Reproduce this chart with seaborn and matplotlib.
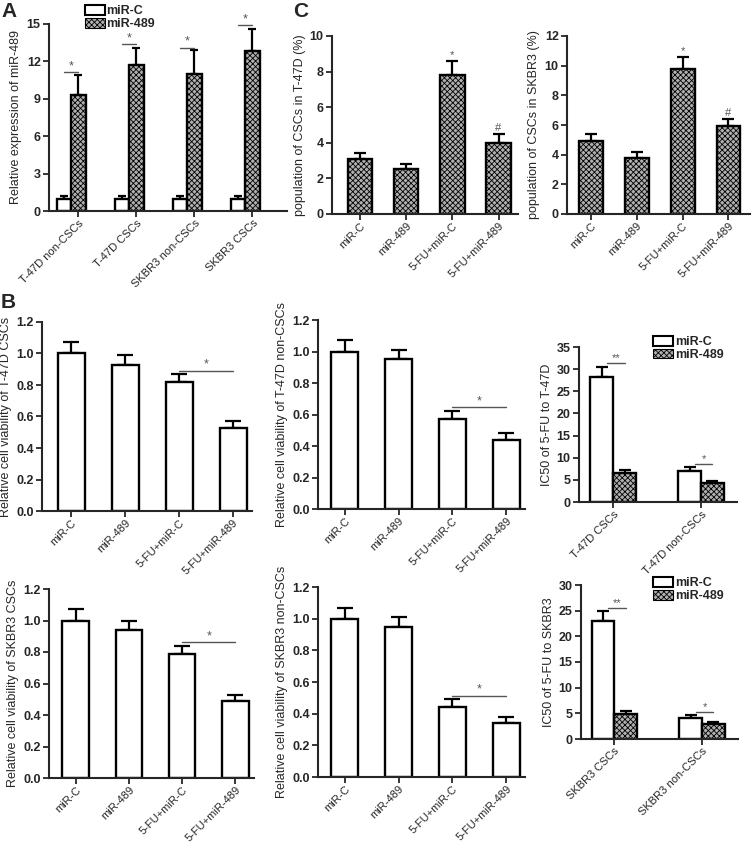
import numpy as np
import pandas as pd
import matplotlib
matplotlib.use('Agg')
import matplotlib.pyplot as plt
from matplotlib.patches import Patch
import seaborn as sns

# ---- data ----
# Panel A: relative miR-489 expression
a_groups = ['T-47D non-CSCs', 'T-47D CSCs', 'SKBR3 non-CSCs', 'SKBR3 CSCs']
a_mirc = [1.0, 1.0, 1.0, 1.0]
a_mirc_err = [0.2, 0.2, 0.2, 0.2]
a_mir489 = [9.3, 11.7, 11.0, 12.8]
a_mir489_err = [1.6, 1.4, 1.9, 1.8]
a_sig_y = [11.15, 13.4, 13.1, 14.9]

treatments = ['miR-C', 'miR-489', '5-FU+miR-C', '5-FU+miR-489']

# Panel C: population of CSCs (%)
c_t47d = [3.1, 2.5, 7.8, 4.0]
c_t47d_err = [0.3, 0.3, 0.8, 0.5]
c_skbr3 = [4.9, 3.8, 9.8, 5.9]
c_skbr3_err = [0.5, 0.4, 0.8, 0.5]
c_marks = ['', '', '*', '#']

# Panel B: relative cell viability
b_t47d_csc = [1.0, 0.93, 0.82, 0.53]
b_t47d_csc_err = [0.07, 0.06, 0.05, 0.04]
b_t47d_non = [1.0, 0.95, 0.57, 0.44]
b_t47d_non_err = [0.07, 0.06, 0.05, 0.04]
b_skbr3_csc = [1.0, 0.94, 0.79, 0.49]
b_skbr3_csc_err = [0.07, 0.06, 0.05, 0.04]
b_skbr3_non = [1.0, 0.95, 0.44, 0.34]
b_skbr3_non_err = [0.07, 0.06, 0.05, 0.04]

# Panel B: IC50 of 5-FU
ic_t47d_groups = ['T-47D CSCs', 'T-47D non-CSCs']
ic_t47d_mirc = [28.3, 7.1]
ic_t47d_mirc_err = [2.2, 0.8]
ic_t47d_mir489 = [6.6, 4.2]
ic_t47d_mir489_err = [0.7, 0.5]
ic_t47d_sig = ['**', '*']
ic_t47d_sig_y = [31.3, 8.5]

ic_skbr3_groups = ['SKBR3 CSCs', 'SKBR3 non-CSCs']
ic_skbr3_mirc = [22.9, 4.1]
ic_skbr3_mirc_err = [2.0, 0.5]
ic_skbr3_mir489 = [4.9, 2.9]
ic_skbr3_mir489_err = [0.5, 0.5]
ic_skbr3_sig = ['**', '*']
ic_skbr3_sig_y = [25.5, 5.2]

# ---- style ----
sns.set_style('ticks')
plt.rcParams['font.family'] = ['Liberation Sans', 'DejaVu Sans']
plt.rcParams['hatch.linewidth'] = 0.6
plt.rcParams['axes.linewidth'] = 1.5

W, H = 752, 846
fig = plt.figure(figsize=(W / 100, H / 100), dpi=100)

HATCH_FACE = '#b0b0b0'
HATCH = 'xxxxxx'
SIG_COLOR = '#555555'


def px_axes(left, top, right, bottom):
    # axes placed by pixel box of the reference
    return fig.add_axes([left / W, 1 - bottom / H, (right - left) / W, (bottom - top) / H])


def style_axes(ax, ylim, yticks, yfmt, ylabel):
    ax.set_ylim(*ylim)
    ax.set_yticks(yticks)
    ax.set_yticklabels([yfmt.format(t) for t in yticks], fontsize=9, fontweight='bold')
    ax.set_ylabel(ylabel, fontsize=9, labelpad=3)
    ax.set_xlabel('')
    sns.despine(ax=ax)
    ax.tick_params(axis='both', direction='out', length=4, width=1.3, pad=2)
    ax.tick_params(axis='x', pad=1)
    ax.spines['left'].set_linewidth(1.5)
    ax.spines['bottom'].set_linewidth(1.5)


def rotate_xlabels(ax, labels, positions):
    ax.set_xticks(positions)
    ax.set_xticklabels(labels, rotation=45, ha='right', rotation_mode='anchor', fontsize=8)


def add_errors(ax, container, errs, cap):
    xs = [p.get_x() + p.get_width() / 2 for p in container.patches]
    ys = [p.get_height() for p in container.patches]
    ax.errorbar(xs, ys, yerr=[np.zeros(len(errs)), errs], fmt='none', ecolor='black',
                elinewidth=1.6, capsize=cap, capthick=1.6, zorder=1)
    return xs, ys


def single_bars(ax, values, errs, color, hatch, width, xlim, cap):
    df = pd.DataFrame({'treatment': treatments, 'value': values})
    sns.barplot(data=df, x='treatment', y='value', color=color, saturation=1,
                edgecolor='black', linewidth=1.7, width=width, errorbar=None, ax=ax)
    cont = ax.containers[0]
    for p in cont.patches:
        p.set_zorder(2)
        if hatch:
            p.set_hatch(hatch)
    xs, ys = add_errors(ax, cont, errs, cap)
    ax.set_xlim(*xlim)
    rotate_xlabels(ax, treatments, range(len(treatments)))
    return xs, ys


def paired_bars(ax, groups, mirc, mirc_err, mir489, mir489_err, width, xlim, cap):
    df = pd.DataFrame({
        'group': groups * 2,
        'series': ['miR-C'] * len(groups) + ['miR-489'] * len(groups),
        'value': list(mirc) + list(mir489),
    })
    sns.barplot(data=df, x='group', y='value', hue='series',
                palette={'miR-C': 'white', 'miR-489': HATCH_FACE}, saturation=1,
                edgecolor='black', linewidth=1.7, width=width, errorbar=None, ax=ax)
    if ax.get_legend() is not None:
        ax.get_legend().remove()
    for p in ax.containers[0].patches:
        p.set_zorder(2)
    for p in ax.containers[1].patches:
        p.set_zorder(2)
        p.set_hatch(HATCH)
    xc, yc = add_errors(ax, ax.containers[0], mirc_err, cap)
    xh, yh = add_errors(ax, ax.containers[1], mir489_err, cap)
    ax.set_xlim(*xlim)
    return xc, xh


def pair_legend(ax, anchor):
    handles = [Patch(facecolor='white', edgecolor='black', linewidth=1.5, label='miR-C'),
               Patch(facecolor=HATCH_FACE, edgecolor='black', linewidth=0.8, hatch=HATCH,
                     label='miR-489')]
    ax.legend(handles=handles, loc='upper left', bbox_to_anchor=anchor, frameon=False,
              handlelength=1.6, handleheight=0.8, handletextpad=0.15, labelspacing=0.05,
              borderpad=0, borderaxespad=0, prop={'size': 9, 'weight': 'bold'})


def sig_line(ax, x0, x1, y, text, size=9):
    ax.plot([x0, x1], [y, y], color=SIG_COLOR, lw=1.0, clip_on=False)
    ax.text((x0 + x1) / 2, y, text, ha='center', va='bottom', color=SIG_COLOR, fontsize=size)


# ---- Panel A ----
ax = px_axes(49, 24, 287, 211)
xc, xh = paired_bars(ax, a_groups, a_mirc, a_mirc_err, a_mir489, a_mir489_err, 0.5,
                     (-0.38, 3.72), 3)
style_axes(ax, (0, 15), [0, 3, 6, 9, 12, 15], '{:g}', 'Relative expression of miR-489')
rotate_xlabels(ax, a_groups, xh)
for i in range(len(a_groups)):
    sig_line(ax, xc[i], xh[i], a_sig_y[i], '*')
pair_legend(ax, (0.15, 1.1))

# ---- Panel C ----
ax = px_axes(332, 36, 518, 214)
xs, ys = single_bars(ax, c_t47d, c_t47d_err, HATCH_FACE, HATCH, 0.53, (-0.6, 3.42), 4.5)
style_axes(ax, (0, 10), [0, 2, 4, 6, 8, 10], '{:g}', 'population of CSCs in T-47D (%)')
for i, m in enumerate(c_marks):
    if m:
        ax.text(xs[i], ys[i] + c_t47d_err[i] + 0.05, m, ha='center', va='bottom',
                color=SIG_COLOR, fontsize=8)

ax = px_axes(567, 36, 750, 214)
xs, ys = single_bars(ax, c_skbr3, c_skbr3_err, HATCH_FACE, HATCH, 0.52, (-0.52, 3.47), 4.5)
style_axes(ax, (0, 12), [0, 2, 4, 6, 8, 10, 12], '{:g}', 'population of CSCs in SKBR3 (%)')
for i, m in enumerate(c_marks):
    if m:
        ax.text(xs[i], ys[i] + c_skbr3_err[i] + 0.05, m, ha='center', va='bottom',
                color=SIG_COLOR, fontsize=8)

# ---- Panel B: viability ----
vticks = [0, 0.2, 0.4, 0.6, 0.8, 1.0, 1.2]
viability = [
    ((42, 322, 252, 511), b_t47d_csc, b_t47d_csc_err, 0.89, 'Relative cell viability of T-47D CSCs', (-0.54, 3.35)),
    ((318, 320, 525, 509), b_t47d_non, b_t47d_non_err, 0.648, 'Relative cell viability of T-47D non-CSCs', (-0.5, 3.35)),
    ((49, 589, 254, 778), b_skbr3_csc, b_skbr3_csc_err, 0.863, 'Relative cell viability of SKBR3 CSCs', (-0.5, 3.35)),
    ((318, 587, 525, 777), b_skbr3_non, b_skbr3_non_err, 0.514, 'Relative cell viability of SKBR3 non-CSCs', (-0.5, 3.35)),
]
for box, vals, errs, sy, label, xlim in viability:
    ax = px_axes(*box)
    xs, ys = single_bars(ax, vals, errs, 'white', None, 0.5, xlim, 5.5)
    style_axes(ax, (0, 1.2), vticks, '{:.1f}', label)
    sig_line(ax, xs[2], xs[3], sy, '*')

# ---- Panel B: IC50 ----
ax = px_axes(579, 347, 737, 502)
xc, xh = paired_bars(ax, ic_t47d_groups, ic_t47d_mirc, ic_t47d_mirc_err,
                     ic_t47d_mir489, ic_t47d_mir489_err, 0.52, (-0.39, 1.41), 4.5)
style_axes(ax, (0, 35), [0, 5, 10, 15, 20, 25, 30, 35], '{:g}', 'IC50 of 5-FU to T-47D')
rotate_xlabels(ax, ic_t47d_groups, [0, 1])
for i in range(2):
    sig_line(ax, xc[i] + 0.06, xh[i], ic_t47d_sig_y[i], ic_t47d_sig[i], size=8)
pair_legend(ax, (0.47, 1.07))

ax = px_axes(581, 585, 738, 739)
xc, xh = paired_bars(ax, ic_skbr3_groups, ic_skbr3_mirc, ic_skbr3_mirc_err,
                     ic_skbr3_mir489, ic_skbr3_mir489_err, 0.52, (-0.38, 1.41), 4.5)
style_axes(ax, (0, 30), [0, 5, 10, 15, 20, 25, 30], '{:g}', 'IC50 of 5-FU to SKBR3')
rotate_xlabels(ax, ic_skbr3_groups, [0, 1])
for i in range(2):
    sig_line(ax, xc[i] + 0.06, xh[i], ic_skbr3_sig_y[i], ic_skbr3_sig[i], size=8)
pair_legend(ax, (0.46, 1.05))

# ---- panel letters ----
fig.text(1 / W, 1 - 2 / H, 'A', fontsize=15, fontweight='bold', va='top')
fig.text(293 / W, 1 - 2 / H, 'C', fontsize=15, fontweight='bold', va='top')
fig.text(1 / W, 1 - 293 / H, 'B', fontsize=15, fontweight='bold', va='top')

fig.savefig('out.png', dpi=100, facecolor='white')
